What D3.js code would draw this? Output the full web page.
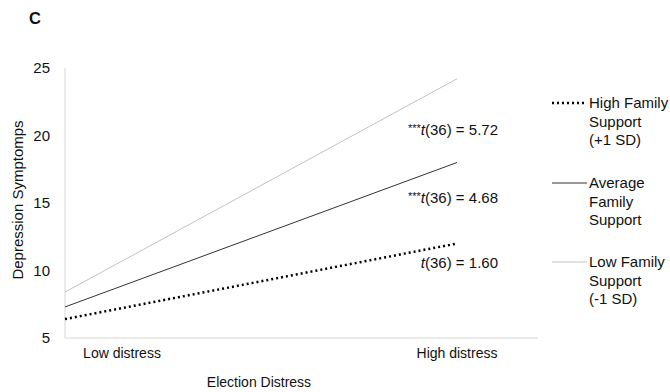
<!DOCTYPE html>
<html><head><meta charset="utf-8">
<script src="https://cdn.jsdelivr.net/npm/d3@7"></script>
<style>body{margin:0;background:#fff}svg{font-family:"Liberation Sans",Arial,sans-serif}</style>
</head><body>
<svg id="c" width="670" height="392"></svg>
<script>
const categories = ["Low distress", "High distress"];
const seriesNames = ["High Family Support (+1 SD)", "Average Family Support", "Low Family Support (-1 SD)"];
const highSupport = [6.4, 12.0];
const avgSupport = [7.3, 18.0];
const lowSupport = [8.4, 24.2];
const yTicks = [5, 10, 15, 20, 25];
const tLabels = [{stars:"", t:"(36) = 1.60"}, {stars:"***", t:"(36) = 4.68"}, {stars:"***", t:"(36) = 5.72"}];

const svg = d3.select("#c");
const x = d3.scalePoint().domain(categories).range([65, 457]);
const y = d3.scaleLinear().domain([5, 25]).range([338, 68]);
const axisColor = "#d6d6d6";
const txt = "#111";

svg.append("text").attr("x", 29).attr("y", 24).attr("font-size", 16.5).attr("font-weight", "bold").attr("fill", txt).text("C");

// axes
svg.append("line").attr("x1", 65).attr("x2", 65).attr("y1", y(25)).attr("y2", y(5)).attr("stroke", axisColor);
svg.append("line").attr("x1", 65).attr("x2", 538).attr("y1", y(5)).attr("y2", y(5)).attr("stroke", axisColor);

const yAxis = d3.axisLeft(y).tickValues(yTicks).tickSize(0).tickPadding(15);
const gy = svg.append("g").attr("transform", "translate(65,0)").call(yAxis);
gy.select(".domain").remove();
gy.selectAll("text").attr("font-size", 15).attr("fill", txt).attr("font-family", "Liberation Sans, Arial, sans-serif");

// x tick labels
const labelOffset = i => i === 0 ? 57 : 0;
svg.selectAll(".xl").data(categories).enter().append("text")
  .attr("x", (d, i) => x(d) + labelOffset(i)).attr("y", 358)
  .attr("text-anchor", "middle").attr("font-size", 14).attr("fill", txt).text(d => d);

svg.append("text").attr("x", 259).attr("y", 387).attr("text-anchor", "middle").attr("font-size", 14).attr("fill", txt).text("Election Distress");
svg.append("text").attr("transform", "translate(23,200) rotate(-90)").attr("text-anchor", "middle").attr("font-size", 15).attr("fill", txt).text("Depression Symptomps");

const series = [
  {vals: highSupport, stroke: "#000", width: 2.5, dash: "2,3"},
  {vals: avgSupport, stroke: "#333", width: 1, dash: null},
  {vals: lowSupport, stroke: "#c2c2c2", width: 1, dash: null}
];
const line = d3.line().x((d, i) => x(categories[i])).y(d => y(d));
series.forEach(s => {
  svg.append("path").datum(s.vals).attr("d", line).attr("fill", "none")
    .attr("stroke", s.stroke).attr("stroke-width", s.width).attr("stroke-dasharray", s.dash);
});

// t annotations
const tY = [268, 203, 135];
tLabels.forEach((t, i) => {
  const tx = svg.append("text").attr("x", 498).attr("y", tY[i]).attr("text-anchor", "end").attr("font-size", 15).attr("fill", txt);
  if (t.stars) tx.append("tspan").attr("font-size", 11).attr("dy", -3).text(t.stars);
  tx.append("tspan").attr("font-style", "italic").attr("dy", t.stars ? 3 : 0).text("t");
  tx.append("tspan").text(t.t);
});

// legend
const legY = [103, 183, 262];
const legLines = [["High Family", "Support", "(+1 SD)"], ["Average", "Family", "Support"], ["Low Family", "Support", "(-1 SD)"]];
series.forEach((s, i) => {
  svg.append("line").attr("x1", 552).attr("x2", 587).attr("y1", legY[i]).attr("y2", legY[i])
    .attr("stroke", s.stroke).attr("stroke-width", s.width).attr("stroke-dasharray", s.dash);
  const t = svg.append("text").attr("x", 589).attr("y", legY[i] + 5).attr("font-size", 15).attr("fill", txt);
  legLines[i].forEach((l, j) => t.append("tspan").attr("x", 589).attr("dy", j ? 18.5 : 0).text(l));
});
</script>
</body></html>
